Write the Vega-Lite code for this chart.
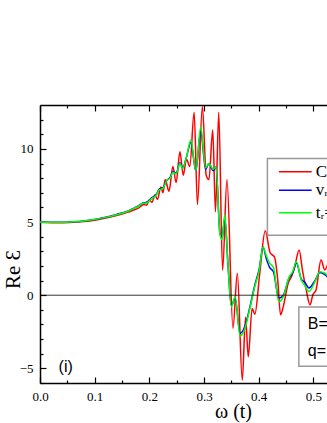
{
  "$schema": "https://vega.github.io/schema/vega-lite/v6.json",
  "autosize": "none",
  "width": 287,
  "height": 278,
  "padding": {"left": 40, "top": 105, "right": 0, "bottom": 40},
  "background": "white",
  "config": {"view": {"stroke": null}, "font": "Liberation Serif"},
  "datasets": {
    "curves": [
      {"w": 0.000, "v": 5.00, "s": "C"}, {"w": 0.020, "v": 4.96, "s": "C"}, {"w": 0.040, "v": 4.95, "s": "C"}, {"w": 0.060, "v": 4.98, "s": "C"}, {"w": 0.080, "v": 5.04, "s": "C"}, {"w": 0.100, "v": 5.13, "s": "C"}, {"w": 0.120, "v": 5.27, "s": "C"}, {"w": 0.140, "v": 5.45, "s": "C"}, {"w": 0.160, "v": 5.66, "s": "C"}, {"w": 0.170, "v": 5.80, "s": "C"}, {"w": 0.180, "v": 5.95, "s": "C"}, {"w": 0.190, "v": 6.20, "s": "C"}, {"w": 0.195, "v": 6.15, "s": "C"}, {"w": 0.200, "v": 6.50, "s": "C"}, {"w": 0.205, "v": 6.35, "s": "C"}, {"w": 0.210, "v": 6.85, "s": "C"}, {"w": 0.215, "v": 6.55, "s": "C"}, {"w": 0.221, "v": 7.40, "s": "C"}, {"w": 0.225, "v": 7.00, "s": "C"}, {"w": 0.229, "v": 7.90, "s": "C"}, {"w": 0.236, "v": 7.10, "s": "C"}, {"w": 0.243, "v": 8.80, "s": "C"}, {"w": 0.249, "v": 7.70, "s": "C"}, {"w": 0.256, "v": 9.80, "s": "C"}, {"w": 0.262, "v": 8.20, "s": "C"}, {"w": 0.268, "v": 9.30, "s": "C"}, {"w": 0.274, "v": 8.80, "s": "C"}, {"w": 0.282, "v": 12.50, "s": "C"}, {"w": 0.288, "v": 6.20, "s": "C"}, {"w": 0.297, "v": 12.90, "s": "C"}, {"w": 0.304, "v": 8.20, "s": "C"}, {"w": 0.309, "v": 7.90, "s": "C"}, {"w": 0.316, "v": 11.30, "s": "C"}, {"w": 0.321, "v": 5.70, "s": "C"}, {"w": 0.327, "v": 12.50, "s": "C"}, {"w": 0.334, "v": 1.70, "s": "C"}, {"w": 0.342, "v": 7.90, "s": "C"}, {"w": 0.353, "v": -2.25, "s": "C"}, {"w": 0.361, "v": 1.50, "s": "C"}, {"w": 0.370, "v": -5.80, "s": "C"}, {"w": 0.376, "v": -1.50, "s": "C"}, {"w": 0.381, "v": -4.20, "s": "C"}, {"w": 0.388, "v": -0.90, "s": "C"}, {"w": 0.393, "v": -1.30, "s": "C"}, {"w": 0.402, "v": 1.50, "s": "C"}, {"w": 0.412, "v": 4.40, "s": "C"}, {"w": 0.421, "v": 2.90, "s": "C"}, {"w": 0.429, "v": 2.60, "s": "C"}, {"w": 0.435, "v": 1.00, "s": "C"}, {"w": 0.440, "v": -1.34, "s": "C"}, {"w": 0.445, "v": -0.78, "s": "C"}, {"w": 0.454, "v": 0.82, "s": "C"}, {"w": 0.460, "v": 1.27, "s": "C"}, {"w": 0.466, "v": 1.95, "s": "C"}, {"w": 0.474, "v": 3.09, "s": "C"}, {"w": 0.480, "v": 1.73, "s": "C"}, {"w": 0.487, "v": 0.36, "s": "C"}, {"w": 0.494, "v": -0.66, "s": "C"}, {"w": 0.499, "v": 0.02, "s": "C"}, {"w": 0.505, "v": 0.36, "s": "C"}, {"w": 0.514, "v": 2.40, "s": "C"}, {"w": 0.521, "v": 1.73, "s": "C"}, {"w": 0.527, "v": 2.20, "s": "C"},

      {"w": 0.000, "v": 5.00, "s": "V"}, {"w": 0.020, "v": 4.98, "s": "V"}, {"w": 0.040, "v": 4.98, "s": "V"}, {"w": 0.060, "v": 5.02, "s": "V"}, {"w": 0.080, "v": 5.08, "s": "V"}, {"w": 0.100, "v": 5.18, "s": "V"}, {"w": 0.120, "v": 5.33, "s": "V"}, {"w": 0.140, "v": 5.52, "s": "V"}, {"w": 0.160, "v": 5.75, "s": "V"}, {"w": 0.170, "v": 5.92, "s": "V"}, {"w": 0.180, "v": 6.10, "s": "V"}, {"w": 0.188, "v": 6.30, "s": "V"}, {"w": 0.195, "v": 6.35, "s": "V"}, {"w": 0.204, "v": 6.65, "s": "V"}, {"w": 0.213, "v": 6.90, "s": "V"}, {"w": 0.218, "v": 7.25, "s": "V"}, {"w": 0.225, "v": 7.35, "s": "V"}, {"w": 0.232, "v": 7.85, "s": "V"}, {"w": 0.238, "v": 8.05, "s": "V"}, {"w": 0.243, "v": 8.45, "s": "V"}, {"w": 0.249, "v": 8.35, "s": "V"}, {"w": 0.256, "v": 9.05, "s": "V"}, {"w": 0.261, "v": 8.70, "s": "V"}, {"w": 0.268, "v": 9.45, "s": "V"}, {"w": 0.276, "v": 10.45, "s": "V"}, {"w": 0.285, "v": 8.50, "s": "V"}, {"w": 0.294, "v": 11.20, "s": "V"}, {"w": 0.303, "v": 8.60, "s": "V"}, {"w": 0.309, "v": 9.00, "s": "V"}, {"w": 0.317, "v": 8.50, "s": "V"}, {"w": 0.322, "v": 8.80, "s": "V"}, {"w": 0.329, "v": 4.30, "s": "V"}, {"w": 0.333, "v": 3.90, "s": "V"}, {"w": 0.338, "v": 5.30, "s": "V"}, {"w": 0.344, "v": 2.00, "s": "V"}, {"w": 0.350, "v": -0.70, "s": "V"}, {"w": 0.357, "v": -0.20, "s": "V"}, {"w": 0.366, "v": -2.60, "s": "V"}, {"w": 0.375, "v": -2.10, "s": "V"}, {"w": 0.384, "v": -0.80, "s": "V"}, {"w": 0.393, "v": 0.70, "s": "V"}, {"w": 0.401, "v": 1.80, "s": "V"}, {"w": 0.408, "v": 3.30, "s": "V"}, {"w": 0.414, "v": 2.50, "s": "V"}, {"w": 0.420, "v": 1.90, "s": "V"}, {"w": 0.427, "v": 1.60, "s": "V"}, {"w": 0.437, "v": -0.20, "s": "V"}, {"w": 0.445, "v": 0.00, "s": "V"}, {"w": 0.456, "v": 1.20, "s": "V"}, {"w": 0.462, "v": 1.50, "s": "V"}, {"w": 0.469, "v": 2.20, "s": "V"}, {"w": 0.478, "v": 1.10, "s": "V"}, {"w": 0.484, "v": 0.90, "s": "V"}, {"w": 0.492, "v": 0.50, "s": "V"}, {"w": 0.503, "v": 1.00, "s": "V"}, {"w": 0.512, "v": 1.55, "s": "V"}, {"w": 0.521, "v": 1.40, "s": "V"}, {"w": 0.530, "v": 1.10, "s": "V"},

      {"w": 0.000, "v": 5.00, "s": "T"}, {"w": 0.020, "v": 4.98, "s": "T"}, {"w": 0.040, "v": 4.98, "s": "T"}, {"w": 0.060, "v": 5.02, "s": "T"}, {"w": 0.080, "v": 5.08, "s": "T"}, {"w": 0.100, "v": 5.18, "s": "T"}, {"w": 0.120, "v": 5.32, "s": "T"}, {"w": 0.140, "v": 5.50, "s": "T"}, {"w": 0.160, "v": 5.72, "s": "T"}, {"w": 0.170, "v": 5.90, "s": "T"}, {"w": 0.180, "v": 6.08, "s": "T"}, {"w": 0.188, "v": 6.28, "s": "T"}, {"w": 0.195, "v": 6.30, "s": "T"}, {"w": 0.204, "v": 6.60, "s": "T"}, {"w": 0.213, "v": 6.85, "s": "T"}, {"w": 0.218, "v": 7.20, "s": "T"}, {"w": 0.225, "v": 7.30, "s": "T"}, {"w": 0.232, "v": 7.85, "s": "T"}, {"w": 0.238, "v": 8.00, "s": "T"}, {"w": 0.243, "v": 8.40, "s": "T"}, {"w": 0.249, "v": 8.30, "s": "T"}, {"w": 0.256, "v": 9.00, "s": "T"}, {"w": 0.261, "v": 8.66, "s": "T"}, {"w": 0.268, "v": 9.45, "s": "T"}, {"w": 0.276, "v": 10.60, "s": "T"}, {"w": 0.285, "v": 8.50, "s": "T"}, {"w": 0.294, "v": 11.50, "s": "T"}, {"w": 0.303, "v": 8.70, "s": "T"}, {"w": 0.309, "v": 9.00, "s": "T"}, {"w": 0.317, "v": 8.60, "s": "T"}, {"w": 0.322, "v": 8.80, "s": "T"}, {"w": 0.329, "v": 4.20, "s": "T"}, {"w": 0.333, "v": 3.80, "s": "T"}, {"w": 0.338, "v": 5.50, "s": "T"}, {"w": 0.344, "v": 2.00, "s": "T"}, {"w": 0.350, "v": -0.80, "s": "T"}, {"w": 0.357, "v": -0.10, "s": "T"}, {"w": 0.366, "v": -2.80, "s": "T"}, {"w": 0.375, "v": -2.25, "s": "T"}, {"w": 0.384, "v": -0.90, "s": "T"}, {"w": 0.393, "v": 0.60, "s": "T"}, {"w": 0.401, "v": 1.70, "s": "T"}, {"w": 0.408, "v": 3.30, "s": "T"}, {"w": 0.414, "v": 2.70, "s": "T"}, {"w": 0.420, "v": 2.20, "s": "T"}, {"w": 0.427, "v": 1.90, "s": "T"}, {"w": 0.437, "v": -0.45, "s": "T"}, {"w": 0.445, "v": -0.10, "s": "T"}, {"w": 0.456, "v": 1.27, "s": "T"}, {"w": 0.462, "v": 1.60, "s": "T"}, {"w": 0.469, "v": 2.30, "s": "T"}, {"w": 0.478, "v": 1.04, "s": "T"}, {"w": 0.484, "v": 0.70, "s": "T"}, {"w": 0.492, "v": 0.25, "s": "T"}, {"w": 0.503, "v": 0.93, "s": "T"}, {"w": 0.512, "v": 1.60, "s": "T"}, {"w": 0.521, "v": 1.50, "s": "T"}, {"w": 0.530, "v": 1.20, "s": "T"}
    ],
    "boxes": [
      {"w": 0.416, "w2": 0.70, "v": 9.35, "v2": 4.1},
      {"w": 0.4735, "w2": 0.70, "v": -0.8, "v2": -4.85}
    ],
    "keys": [
      {"w": 0.437, "w2": 0.497, "v": 8.43, "s": "C", "label": "Classical"},
      {"w": 0.437, "w2": 0.497, "v": 7.18, "s": "V", "label": "vᵣ=0.1"},
      {"w": 0.437, "w2": 0.497, "v": 5.63, "s": "T", "label": "tᵣ=0.1"}
    ],
    "notes": [
      {"w": 0.490, "v": -2.0, "label": "B=1"},
      {"w": 0.490, "v": -3.8, "label": "q=1"},
      {"w": 0.034, "v": -4.9, "label": "(i)"}
    ]
  },
  "resolve": {"axis": {"x": "independent"}},
  "encoding": {
    "y": {"field": "v", "type": "quantitative",
      "scale": {"domain": [-6, 13], "nice": false, "zero": false},
      "axis": {"title": "Re Ɛ", "titleFont": "Liberation Serif", "titleFontSize": 21, "titleFontWeight": "normal", "titleColor": "black",
        "titleX": -27, "titleY": 164, "titleAngle": 270, "titleBaseline": "middle", "titleAlign": "center",
        "values": [-6, -5, -4, -3, -2, -1, 0, 1, 2, 3, 4, 5, 6, 7, 8, 9, 10, 11, 12],
        "labelExpr": "datum.value % 5 === 0 ? datum.label : ''",
        "tickSize": {"condition": {"test": "datum.value % 5 === 0", "value": -6}, "value": -3},
        "labelPadding": 13, "labelFontSize": 13, "labelFont": "Liberation Serif", "labelColor": "black", "labelOverlap": false, "labelFlush": false,
        "grid": false, "domainColor": "black", "domainWidth": 1.5, "tickColor": "black", "tickWidth": 1.2}}
  },
  "layer": [
    {
      "data": {"name": "curves"},
      "mark": {"type": "line", "strokeWidth": 1.5, "clip": true, "interpolate": "monotone"},
      "encoding": {
        "x": {"field": "w", "type": "quantitative",
          "scale": {"domain": [0, 0.525], "nice": false, "zero": false},
          "axis": {"orient": "bottom", "title": "ω (t)", "titleFont": "Liberation Serif", "titleFontSize": 20, "titleFontWeight": "normal", "titleColor": "black",
            "titleX": 193, "titleY": 28, "titleBaseline": "middle",
            "values": [0, 0.05, 0.1, 0.15, 0.2, 0.25, 0.3, 0.35, 0.4, 0.45, 0.5],
            "labelExpr": "abs(datum.value*10 - round(datum.value*10)) < 0.01 ? format(datum.value, '.1f') : ''",
            "tickSize": {"condition": {"test": "abs(datum.value*10 - round(datum.value*10)) < 0.01", "value": -6}, "value": -3},
            "labelPadding": 13, "labelFontSize": 13, "labelFont": "Liberation Serif", "labelColor": "black",
            "labelOverlap": false, "labelFlush": false,
            "grid": false, "domainColor": "black", "domainWidth": 1.5, "tickColor": "black", "tickWidth": 1.2}},
        "color": {"field": "s", "type": "nominal", "scale": {"domain": ["C", "V", "T"], "range": ["#ff0000", "#0000ff", "#00ff00"]}, "legend": null},
        "order": {"field": "s", "sort": "descending"}
      }
    },
    {
      "data": {"values": [{"v": 0}]},
      "mark": {"type": "rule", "color": "black", "strokeWidth": 0.8},
      "encoding": {}
    },
    {
      "data": {"name": "boxes"},
      "mark": {"type": "rect", "fill": "white", "stroke": "#999999", "strokeWidth": 1.5, "clip": true},
      "encoding": {
        "x": {"field": "w", "type": "quantitative",
          "axis": {"orient": "top", "title": null, "labels": false,
            "values": [0, 0.05, 0.1, 0.15, 0.2, 0.25, 0.3, 0.35, 0.4, 0.45, 0.5],
            "tickSize": {"condition": {"test": "abs(datum.value*10 - round(datum.value*10)) < 0.01", "value": -6}, "value": -3},
            "grid": false, "domainColor": "black", "domainWidth": 1.5, "tickColor": "black", "tickWidth": 1.2}},
        "x2": {"field": "w2"},
        "y2": {"field": "v2"}
      }
    },
    {
      "data": {"name": "keys"},
      "mark": {"type": "rule", "strokeWidth": 1.5, "clip": true},
      "encoding": {
        "x": {"field": "w", "type": "quantitative", "axis": null},
        "x2": {"field": "w2"},
        "color": {"field": "s", "type": "nominal", "legend": null}
      }
    },
    {
      "data": {"name": "keys"},
      "mark": {"type": "text", "align": "left", "baseline": "middle", "font": "Liberation Serif", "fontSize": 17, "color": "black", "dx": 4, "clip": true},
      "encoding": {
        "x": {"field": "w2", "type": "quantitative", "axis": null},
        "text": {"field": "label"}
      }
    },
    {
      "data": {"name": "notes"},
      "mark": {"type": "text", "align": "left", "baseline": "middle", "font": "Liberation Sans", "fontSize": 16, "color": "black", "clip": true},
      "encoding": {
        "x": {"field": "w", "type": "quantitative", "axis": null},
        "text": {"field": "label"}
      }
    }
  ]
}
